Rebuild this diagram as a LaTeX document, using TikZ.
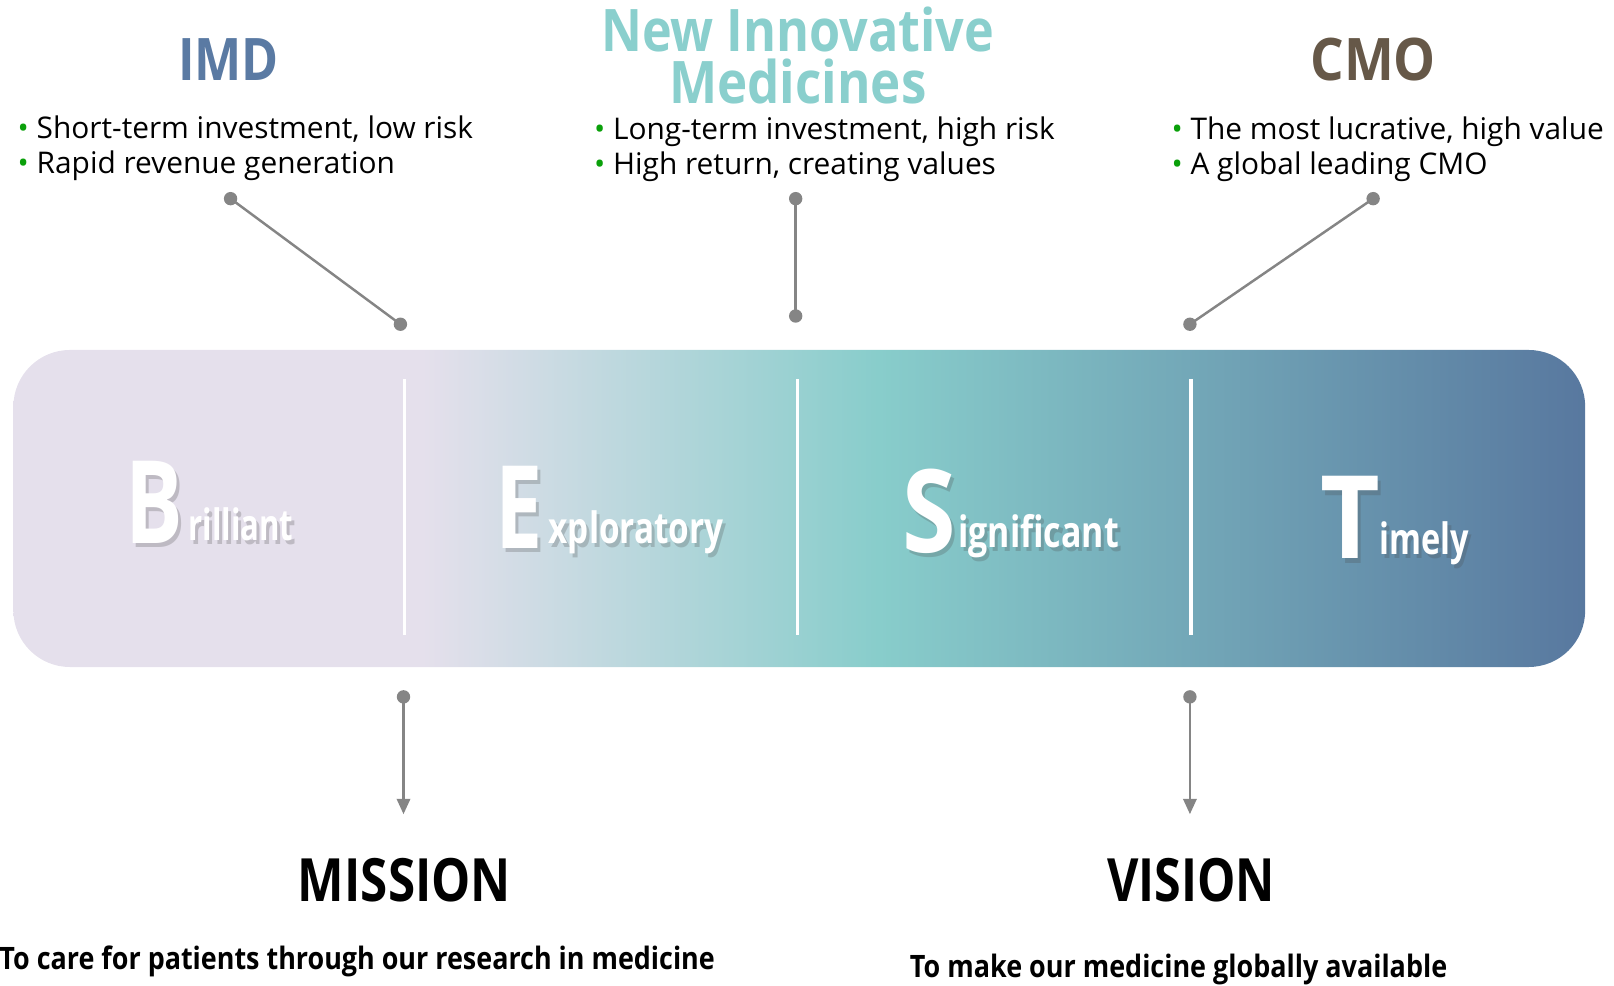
\documentclass[tikz,border=0pt]{standalone}
\usepackage{fontspec}
\setmainfont{Open Sans}
\usetikzlibrary{arrows.meta}
\definecolor{lav}{HTML}{E5E0EC}
\definecolor{tealc}{HTML}{88CDCB}
\definecolor{bluec}{HTML}{58789F}
\definecolor{imdc}{HTML}{5A7AA3}
\definecolor{nimc}{HTML}{8ACFCD}
\definecolor{cmoc}{HTML}{665848}
\definecolor{conngray}{HTML}{858585}
\definecolor{bgreen}{HTML}{0AA00A}
\pgfdeclarehorizontalshading{barshade}{100bp}{color(0bp)=(lav); color(38bp)=(lav); color(52.5bp)=(tealc); color(75bp)=(bluec); color(100bp)=(bluec)}
\newcommand\fitw[2]{\resizebox{#1}{\height}{#2}}
% #1 name, #2 x, #3 baseline y, #4 width, #5 font size, #6 text
\newcommand\shword[6]{%
  \node[shad] (#1s) at (#2+3,#3+4) {\fontsize{#5}{#5}\selectfont\fitw{#4pt}{#6}};
  \node[bigtxt] (#1) at (#2,#3) {\fontsize{#5}{#5}\selectfont\fitw{#4pt}{#6}};
}
\begin{document}
\begin{tikzpicture}[x=1pt,y=-1pt,
  bigtxt/.style={anchor=base, inner sep=0pt, text=white, font=\bfseries},
  shad/.style={anchor=base, inner sep=0pt, text=black!70, opacity=0.25, font=\bfseries},
  dotn/.style={circle, fill=conngray, inner sep=0pt, minimum size=13pt},
  conn/.style={draw=conngray, line width=2.4pt},
  arr/.style={conn, -{Triangle[width=13pt,length=15pt]}},
  ttl/.style={anchor=base, inner sep=0pt, font=\bfseries},
  bul/.style={anchor=base west, inner sep=0pt},
  divl/.style={draw=white, line width=3pt},
  btm/.style={anchor=base, inner sep=0pt, font=\bfseries, text=black}]
\useasboundingbox (0,0) rectangle (1568,957);

% titles
\node[ttl, text=imdc] (imd) at (222,78) {\fontsize{57}{57}\selectfont\bfseries\fitw{98pt}{IMD}};
\node[ttl, text=nimc] (nim1) at (775,50) {\fontsize{57}{57}\selectfont\bfseries\fitw{382pt}{New Innovative}};
\node[ttl, text=nimc] (nim2) at (775,101) {\fontsize{57}{57}\selectfont\bfseries\fitw{250pt}{Medicines}};
\node[ttl, text=cmoc] (cmo) at (1334,78) {\fontsize{57}{57}\selectfont\bfseries\fitw{122pt}{CMO}};

% bullets
\node[bul] (b11) at (17,135) {\fontsize{29}{34}\selectfont\textcolor{bgreen}{•}\ Short-term investment, low risk};
\node[bul] (b12) at (17,169) {\fontsize{29}{34}\selectfont\textcolor{bgreen}{•}\ Rapid revenue generation};
\node[bul] (b21) at (577,136) {\fontsize{29}{34}\selectfont\textcolor{bgreen}{•}\ Long-term investment, high risk};
\node[bul] (b22) at (577,170) {\fontsize{29}{34}\selectfont\textcolor{bgreen}{•}\ High return, creating values};
\node[bul] (b31) at (1138,136) {\fontsize{29}{34}\selectfont\textcolor{bgreen}{•}\ The most lucrative, high value};
\node[bul] (b32) at (1138,170) {\fontsize{29}{34}\selectfont\textcolor{bgreen}{•}\ A global leading CMO};

% bar
\path[shading=barshade, rounded corners=55pt] (13,340) rectangle (1540,648);
\draw[divl] (393,368) -- (393,617);
\draw[divl] (775,368) -- (775,617);
\draw[divl] (1157,368) -- (1157,617);

% words
\shword{wB}{150}{528}{56}{112}{\bfseries B}
\shword{wB2}{234}{525}{102}{42}{\bfseries rilliant}
\shword{wE}{504}{533}{46}{112}{\bfseries E}
\shword{wE2}{618}{528}{170}{42}{\bfseries xploratory}
\shword{wS}{903}{537}{52}{112}{\bfseries S}
\shword{wS2}{1009}{532}{156}{42}{\bfseries ignificant}
\shword{wT}{1312}{543}{58}{112}{\bfseries T}
\shword{wT2}{1384}{539}{87}{42}{\bfseries imely}

% connectors top
\draw[conn] (224,193) coordinate (c1a) -- (389,315) coordinate (c1b);
\draw[conn] (773,193) coordinate (c2a) -- (773,307) coordinate (c2b);
\draw[conn] (1334,193) coordinate (c3a) -- (1156,315) coordinate (c3b);
\node[dotn] (d1a) at (c1a) {};
\node[dotn] (d1b) at (c1b) {};
\node[dotn] (d2a) at (c2a) {};
\node[dotn] (d2b) at (c2b) {};
\node[dotn] (d3a) at (c3a) {};
\node[dotn] (d3b) at (c3b) {};

% arrows bottom
\node[dotn] (m1) at (392,677) {};
\coordinate (m2) at (392,791);
\draw[arr] (m1.center) -- (m2);
\node[dotn] (v1) at (1156,677) {};
\coordinate (v2) at (1156,791);
\draw[arr] (v1.center) -- (v2);

% mission / vision
\node[btm] (mis) at (393,876) {\fontsize{58}{58}\selectfont\bfseries\fitw{207pt}{MISSION}};
\node[btm] (vis) at (1157,876) {\fontsize{58}{58}\selectfont\bfseries\fitw{163pt}{VISION}};
\node[btm] (mist) at (347,942) {\fontsize{30}{30}\selectfont\bfseries\fitw{695pt}{To care for patients through our research in medicine}};
\node[btm] (vist) at (1145,950) {\fontsize{30}{30}\selectfont\bfseries\fitw{522pt}{To make our medicine globally available}};
\end{tikzpicture}
\end{document}
